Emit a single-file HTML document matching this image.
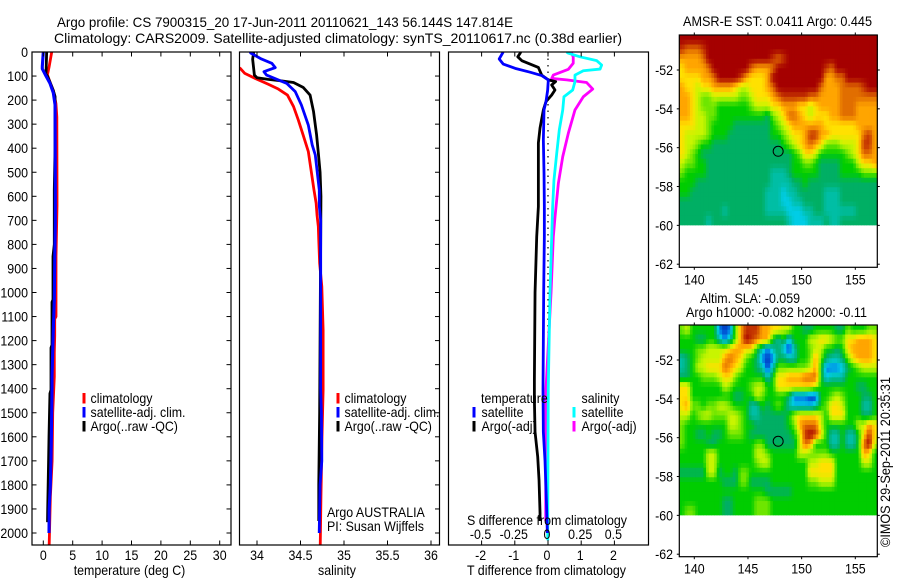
<!DOCTYPE html>
<html lang="en">
<head>
<meta charset="utf-8">
<title>Argo profile</title>
<style>
html,body{margin:0;padding:0;background:#fff;}
#chart{display:block;width:900px;height:580px;}
text{font-family:"Liberation Sans",sans-serif;font-size:14px;fill:#000;}
</style>
</head>
<body>
<svg id="chart" xmlns="http://www.w3.org/2000/svg" width="900" height="580" viewBox="0 0 900 580">
<defs>
<clipPath id="clip1"><rect x="32" y="52" width="199" height="493"/></clipPath>
<clipPath id="clip2"><rect x="239.5" y="52" width="200" height="493"/></clipPath>
<clipPath id="clip3"><rect x="448.5" y="52" width="200" height="493"/></clipPath>
</defs>
<text x="57" y="27" textLength="456">Argo profile: CS 7900315_20 17-Jun-2011 20110621_143 56.144S 147.814E</text>
<text x="54" y="43" textLength="568">Climatology: CARS2009. Satellite-adjusted climatology: synTS_20110617.nc (0.38d earlier)</text>
<g id="panels"></g>
<g id="maps"></g>
<g>
<rect x="82.5" y="393" width="3" height="10.5" fill="#f00"/>
<text x="90.5" y="403">climatology</text>
<rect x="82.5" y="407" width="3" height="10.5" fill="#00f"/>
<text x="90.5" y="417">satellite-adj. clim.</text>
<rect x="82.5" y="421" width="3" height="10.5" fill="#000"/>
<text x="90.5" y="431">Argo(..raw -QC)</text>
</g>
<g>
<rect x="336.5" y="393" width="3" height="10.5" fill="#f00"/>
<text x="344.5" y="403">climatology</text>
<rect x="336.5" y="407" width="3" height="10.5" fill="#00f"/>
<text x="344.5" y="417">satellite-adj. clim.</text>
<rect x="336.5" y="421" width="3" height="10.5" fill="#000"/>
<text x="344.5" y="431">Argo(..raw -QC)</text>
</g>
<g>
<text x="481" y="403">temperature</text>
<rect x="472.5" y="407" width="3" height="10.5" fill="#00f"/>
<text x="481.5" y="417">satellite</text>
<rect x="472.5" y="421" width="3" height="10.5" fill="#000"/>
<text x="481.5" y="431">Argo(-adj)</text>
<text x="581.5" y="403">salinity</text>
<rect x="572.5" y="407" width="3" height="10.5" fill="#0ff"/>
<text x="581.5" y="417">satellite</text>
<rect x="572.5" y="421" width="3" height="10.5" fill="#f0f"/>
<text x="581.5" y="431">Argo(-adj)</text>
</g>
<text x="327" y="517">Argo AUSTRALIA</text>
<text x="327" y="531">PI: Susan Wijffels</text>
<text x="467" y="525" textLength="160">S difference from climatology</text>
<text x="129.5" y="575" text-anchor="middle">temperature (deg C)</text>
<text x="337" y="575" text-anchor="middle">salinity</text>
<text x="467" y="575" textLength="159">T difference from climatology</text>
<text x="777.5" y="26" text-anchor="middle" textLength="189">AMSR-E SST: 0.0411  Argo: 0.445</text>
<text x="750" y="303" text-anchor="middle" textLength="100">Altim. SLA: -0.059</text>
<text x="776.5" y="317" text-anchor="middle" textLength="181">Argo h1000: -0.082 h2000: -0.11</text>
<text transform="translate(890,547) rotate(-90)" textLength="170">©IMOS 29-Sep-2011 20:35:31</text>
</svg>
<script>
// ---- axis tick data ----
var depthTicks = [0,100,200,300,400,500,600,700,800,900,1000,1100,1200,1300,1400,1500,1600,1700,1800,1900,2000];
var tempTicks = [0,5,10,15,20,25,30];
var salTicks = [34,34.5,35,35.5,36];
var tDiffTicks = [-2,-1,0,1,2];
var sDiffTicks = [-0.5,-0.25,0,0.25,0.5];
var lonTicks = [140,145,150,155];
var latTicks = [-52,-54,-56,-58,-60,-62];

// ---- temperature profiles ----
var climTempDepth = [0,60,95,125,160,215,270,574,640,850,1100,1110,1180,1250,1350,1500,1700,1850,2050];
var climTemp = [1.43,1.0,0.7,1.13,1.7,2.15,2.3,2.33,2.33,2.16,2.16,1.94,1.94,1.87,1.87,1.6,1.5,1.2,1.0];
var satTempDepth = [0,60,70,100,130,170,220,600,712,850,1031,1156,1350,1400,1500,1600,1700,1800,1900,2000];
var satTemp = [0,-0.17,-0.17,0.46,1.13,1.7,2.0,2.04,2.04,1.95,1.87,1.7,1.48,1.48,1.43,1.37,1.3,1.2,1.0,0.97];
var argoTempDepth = [0,92,100,125,160,185,400,574,800,850,1030,1040,1218,1230,1405,1420,1600,1700,1900,1955];
var argoTemp = [0.57,0.46,0.7,1.13,1.7,2.0,2.0,1.87,1.87,1.65,1.65,1.48,1.48,1.31,1.31,1.13,0.97,0.9,0.75,0.72];

// ---- salinity profiles ----
var climSalDepth = [65,89,110,134,154,179,227,283,345,414,574,629,678,726,781,878,975,1156,1405,1600,1850,2050];
var climSal = [33.8,33.86,33.98,34.13,34.245,34.35,34.42,34.475,34.53,34.59,34.655,34.68,34.69,34.705,34.71,34.72,34.745,34.76,34.76,34.747,34.735,34.727];
var satSalDepth = [0,5,29,47,65,75,82,96,116,130,165,220,304,387,428,574,640,700,1400,1500,1700,1800,2000];
var satSal = [33.92,33.93,34.05,34.17,34.21,34.13,34.08,34.11,34.245,34.34,34.44,34.51,34.59,34.635,34.67,34.716,34.716,34.732,34.732,34.74,34.745,34.725,34.715];
var argoSalDepth = [0,5,30,96,107,114,120,127,147,179,248,345,420,500,600,900,1500,1800,1950];
var argoSal = [33.96,33.96,33.95,33.97,34.0,34.13,34.28,34.42,34.53,34.61,34.65,34.685,34.705,34.725,34.735,34.73,34.72,34.71,34.71];

// ---- difference profiles ----
var satTDiffDepth = [0,29,50,68,84,98,116,158,206,241,366,503,643,768,1000,1400,1580,1700,1900,2000];
var satTDiff = [-1.35,-1.47,-1.35,-0.99,-0.54,-0.19,0.01,-0.01,-0.06,-0.12,-0.14,-0.12,-0.11,-0.11,-0.13,-0.15,-0.14,-0.09,-0.04,-0.02];
var argoTDiffDepth = [0,5,20,36,50,64,96,116,123,137,158,179,206,241,316,378,643,768,1000,1364,1447,1580,1683,1780,1917,1950];
var argoTDiff = [-0.82,-0.84,-0.91,-0.79,-0.54,-0.29,-0.19,0.01,0.23,0.11,0.21,0.11,-0.06,-0.14,-0.24,-0.29,-0.29,-0.34,-0.39,-0.41,-0.41,-0.39,-0.31,-0.27,-0.24,-0.24];
var satSDiffDepth = [0,5,20,36,54,71,78,96,123,158,186,241,324,420,532,643,768,1000,1400,2000,2030];
var satSDiff = [0.14,0.153,0.241,0.367,0.404,0.392,0.266,0.203,0.203,0.186,0.12,0.111,0.085,0.066,0.045,0.035,0.028,0.015,0.002,-0.002,-0.002];
var argoSDiffDepth = [0,5,20,47,72,96,110,116,127,154,186,241,338,435,546,685,768,1000,1400,1580,1800,1950];
var argoSDiff = [0.178,0.178,0.19,0.19,0.153,0.04,0.028,0.141,0.291,0.337,0.266,0.203,0.153,0.111,0.078,0.053,0.04,0.023,-0.015,-0.015,-0.017,-0.017];

// ---- map data: colour-level indices on a half-degree grid, north to south ----
var sstRows = [
[12,12,12,12,12,12,12,12,12,12,12,12,12,12,12,12,12,12,12,12,12,12,12,12,12,12,12,12,12,12,12,12,12,12,12,12,12],
[11,10,10,10,11,12,12,12,12,12,12,12,12,12,12,12,12,12,12,12,12,12,12,12,12,12,12,12,12,12,12,12,12,12,12,12,12],
[9,9,9,9,10,12,12,12,12,12,12,12,12,12,12,12,12,11,10,11,12,12,12,12,12,12,12,12,12,12,12,12,12,12,12,12,12],
[8,9,9,9,9,10,12,12,12,12,12,12,12,10,9,9,9,10,12,12,12,12,12,12,12,12,12,11,10,12,12,12,12,12,12,12,12],
[8,8,8,8,9,9,10,12,12,12,12,11,9,8,8,8,9,12,12,12,12,12,12,12,12,12,12,9,9,10,10,12,12,12,12,12,12],
[9,8,8,7,8,8,9,9,9,9,8,7,7,8,8,8,9,10,12,12,12,12,12,12,12,12,10,9,9,9,10,10,10,10,11,12,12],
[9,9,8,7,6,6,7,7,7,7,7,6,6,7,8,8,8,9,10,11,11,11,11,11,10,10,9,9,9,9,10,10,10,10,10,10,10],
[9,9,8,7,6,6,6,5,5,5,5,5,5,6,7,7,7,8,8,9,9,9,8,8,7,8,9,9,9,9,10,10,10,9,9,9,9],
[9,9,8,7,7,6,6,5,5,5,5,5,5,5,5,5,4,6,7,8,10,10,9,8,7,8,8,8,9,9,10,10,10,9,9,9,9],
[8,8,8,7,7,6,5,5,5,5,4,4,4,4,4,4,4,5,6,7,8,9,9,9,9,9,9,8,8,8,8,8,8,9,9,9,9],
[8,7,7,7,7,6,5,5,5,4,4,4,4,4,4,4,4,5,5,6,7,8,8,9,11,11,9,9,8,8,8,8,8,8,10,11,9],
[8,7,7,6,5,5,4,4,4,4,4,4,4,4,4,4,4,4,4,5,6,7,8,9,10,9,8,6,6,6,7,7,7,8,11,11,9],
[8,7,6,5,4,4,4,4,4,4,4,4,4,4,4,4,4,4,4,4,4,5,6,8,8,7,5,5,5,5,5,6,7,8,10,10,9],
[7,6,6,5,5,4,4,4,4,4,4,4,4,4,4,4,4,4,4,4,4,5,5,6,6,5,4,4,4,4,5,5,5,7,8,8,9],
[6,5,5,5,5,4,4,4,4,4,4,4,4,4,4,4,4,3,3,3,4,5,5,5,5,5,4,4,4,4,5,5,5,5,6,6,6],
[5,5,5,4,4,4,4,4,4,4,4,4,4,4,4,4,4,3,3,3,3,4,4,5,4,4,4,4,4,4,4,4,4,4,4,4,4],
[5,5,4,4,4,4,4,4,4,4,4,4,4,4,4,4,3,3,3,2,3,3,4,4,4,4,4,3,3,3,4,4,4,4,4,4,4],
[4,4,4,4,4,4,4,4,4,4,4,4,4,4,4,4,3,3,3,2,2,3,3,4,4,4,4,3,3,3,4,4,4,4,4,4,4],
[4,4,4,4,4,4,4,4,3,4,4,4,4,4,4,4,3,3,3,3,2,2,2,3,3,4,4,3,3,3,3,3,3,4,4,4,4],
[4,4,4,4,4,3,4,4,4,4,4,4,4,4,4,4,4,4,4,4,3,2,2,2,3,3,3,4,3,3,4,4,4,4,4,4,4]
];
var slaRows = [
[6,7,5,5,5,5,5,1,0,1,6,9,11,11,11,9,9,8,8,7,7,5,5,4,4,5,5,5,5,4,4,6,5,5,5,6,6],
[5,5,5,4,4,5,5,3,1,3,6,9,12,11,10,9,9,5,3,5,2,5,5,5,7,7,8,8,7,6,6,8,8,9,9,9,8],
[5,5,5,6,6,7,7,7,7,8,9,9,8,8,5,3,1,3,4,2,0,3,5,5,6,7,7,5,5,4,5,8,9,9,9,9,8],
[3,4,5,6,7,7,7,7,9,10,9,8,6,5,4,1,0,1,4,4,3,3,5,5,6,9,6,4,3,3,4,6,8,9,9,9,8],
[3,4,5,7,7,8,8,8,10,9,8,7,5,5,4,3,0,3,6,6,6,6,6,6,7,9,5,1,1,1,2,4,5,6,7,7,7],
[4,4,5,5,6,6,6,7,8,8,6,5,5,5,5,5,3,5,8,8,9,9,9,10,10,10,5,2,3,3,3,5,5,5,5,5,5],
[8,8,5,5,5,5,5,5,7,6,5,5,5,6,7,7,5,5,8,8,8,8,8,8,8,7,5,5,5,5,5,5,5,4,4,5,5],
[8,8,5,5,5,5,5,5,5,5,4,4,5,5,7,6,5,5,5,5,4,1,1,1,0,0,5,5,6,7,6,5,5,5,4,4,5],
[8,9,6,6,5,6,6,7,7,6,5,5,5,3,3,5,4,5,6,5,3,2,2,2,2,3,5,6,8,8,7,5,5,5,3,3,5],
[7,7,5,6,7,7,6,6,6,7,7,6,5,3,3,4,4,4,4,4,5,7,8,8,8,8,7,5,8,8,8,5,5,5,4,4,5],
[6,5,5,5,5,5,5,5,5,7,7,6,5,5,4,4,4,4,4,4,5,6,9,10,10,10,7,5,5,5,5,5,5,7,7,9,8],
[6,5,5,4,4,5,4,4,5,6,6,6,5,4,4,4,4,4,4,4,4,5,7,11,12,11,8,5,3,3,5,3,3,5,8,11,8],
[6,5,5,5,5,4,4,5,5,5,5,5,5,5,6,6,4,4,4,4,4,4,7,10,9,5,5,5,3,3,5,3,3,5,10,12,7],
[5,5,5,5,5,7,7,5,5,5,5,5,5,5,7,7,6,5,5,5,5,5,7,7,6,6,6,6,5,5,5,5,5,5,9,8,5],
[5,5,5,5,5,7,7,5,5,5,5,5,5,5,6,7,7,5,5,5,5,5,5,5,7,7,8,8,8,5,5,5,5,5,7,7,5],
[4,4,4,4,4,7,7,4,5,5,4,6,6,5,5,5,5,5,5,5,5,5,5,5,8,8,8,8,8,5,5,5,5,5,5,5,5],
[5,5,5,5,5,5,5,5,4,4,4,6,6,4,4,4,4,5,5,5,5,5,5,5,6,6,7,7,7,5,5,5,5,5,5,5,5],
[5,5,5,5,5,5,5,5,5,5,5,5,5,5,5,5,4,4,4,4,4,5,5,5,5,5,5,5,5,5,5,5,5,5,5,5,5],
[5,5,5,5,5,5,5,5,4,4,5,5,5,5,6,6,6,5,5,5,5,5,5,5,5,5,5,5,5,5,5,5,5,5,5,5,5],
[5,6,6,5,5,5,5,5,4,4,5,5,5,5,6,6,6,5,5,5,5,5,5,5,5,5,5,5,5,5,5,5,5,5,5,5,5]
];
var levelRed = [0,0,0,0,0,0,110,200,255,255,225,195,165];
var levelGreen = [50,120,205,190,175,205,230,245,225,165,110,50,0];
var levelBlue = [190,230,230,165,100,0,0,0,0,0,0,0,0];
var floatLon = 147.814;
var floatLat = -56.144;

// ---- helpers ----
var NS = "http://www.w3.org/2000/svg";
function mk(tag, attrs, parent, txt){
  var el = document.createElementNS(NS, tag);
  for (var k in attrs) el.setAttribute(k, attrs[k]);
  if (txt !== undefined) el.textContent = txt;
  parent.appendChild(el);
  return el;
}
function linear(d0, d1, r0, r1){
  return function(v){ return r0 + (v - d0) * (r1 - r0) / (d1 - d0); };
}
var depthY = linear(0, 2000, 52, 533);
var tempX = linear(0, 30, 43.3, 219.7);
var salX = linear(34, 36, 257, 431);
var tDiffX = linear(0, 2, 548, 614.4);
var sDiffX = linear(0, 0.5, 548, 614.4);

function drawBox(parent, x0, y0, x1, y1){
  var box = mk("rect", {x:x0, y:y0, width:x1-x0, height:y1-y0, fill:"none", stroke:"#000", "stroke-width":1.2}, parent);
  
  
}
function tick(parent, x1, y1, x2, y2){
  var t = mk("line", {x1:x1, y1:y1, x2:x2, y2:y2, stroke:"#000", "stroke-width":1}, parent);
  
  
}
function label(parent, x, y, anchor, str){
  var t = mk("text", {x:x, y:y, "text-anchor":anchor}, parent, str);
  
  
}
function profile(parent, clip, depths, values, xFn, color, width, name){
  var pts = [];
  for (var i = 0; i < depths.length; i++) {
    pts.push(xFn(values[i]).toFixed(2) + "," + depthY(depths[i]).toFixed(2));
  }
  var line = mk("polyline", {points:pts.join(" "), fill:"none", stroke:color, "stroke-width":width, "stroke-linejoin":"round", "clip-path":"url(#" + clip + ")"}, parent);
  
  
}

var panels = document.getElementById("panels");
var LW = 2.8;

// panel 1: temperature
var p1 = mk("g", {}, panels);


profile(p1, "clip1", climTempDepth, climTemp, tempX, "#f00", LW, "temperature-climatology-line");
profile(p1, "clip1", argoTempDepth, argoTemp, tempX, "#000", LW, "temperature-argo-line");
profile(p1, "clip1", satTempDepth, satTemp, tempX, "#00f", 3.1, "temperature-satellite-line");
drawBox(p1, 32, 52, 231, 545);
depthTicks.forEach(function(d){
  var y = depthY(d);
  tick(p1, 32, y, 36.5, y);
  tick(p1, 231, y, 226.5, y);
  label(p1, 28, y + 5, "end", String(d));
});
tempTicks.forEach(function(v){
  var x = tempX(v);
  tick(p1, x, 52, x, 56.5);
  tick(p1, x, 545, x, 540.5);
  label(p1, x, 560, "middle", String(v));
});

// panel 2: salinity
var p2 = mk("g", {}, panels);


profile(p2, "clip2", climSalDepth, climSal, salX, "#f00", LW, "salinity-climatology-line");
profile(p2, "clip2", argoSalDepth, argoSal, salX, "#000", LW, "salinity-argo-line");
profile(p2, "clip2", satSalDepth, satSal, salX, "#00f", LW, "salinity-satellite-line");
drawBox(p2, 239.5, 52, 439.5, 545);
depthTicks.forEach(function(d){
  var y = depthY(d);
  tick(p2, 439.5, y, 435, y);
});
salTicks.forEach(function(v){
  var x = salX(v);
  tick(p2, x, 52, x, 56.5);
  tick(p2, x, 545, x, 540.5);
  label(p2, x, 560, "middle", String(v));
});

// panel 3: differences
var p3 = mk("g", {}, panels);


var zeroLine = mk("line", {x1:tDiffX(0), y1:52, x2:tDiffX(0), y2:545, stroke:"#000", "stroke-width":1.2, "stroke-dasharray":"1.5 5"}, p3);


profile(p3, "clip3", argoSDiffDepth, argoSDiff, sDiffX, "#f0f", LW, "s-diff-argo-line");
profile(p3, "clip3", satSDiffDepth, satSDiff, sDiffX, "#0ff", LW, "s-diff-satellite-line");
profile(p3, "clip3", argoTDiffDepth, argoTDiff, tDiffX, "#000", LW, "t-diff-argo-line");
profile(p3, "clip3", satTDiffDepth, satTDiff, tDiffX, "#00f", LW, "t-diff-satellite-line");
drawBox(p3, 448.5, 52, 648.5, 545);
tDiffTicks.forEach(function(v){
  var x = tDiffX(v);
  tick(p3, x, 52, x, 56.5);
  tick(p3, x, 545, x, 540.5);
  label(p3, x - 1, 560, "middle", String(v));
});
sDiffTicks.forEach(function(v){
  label(p3, sDiffX(v) - 1, 539, "middle", String(v));
});

// maps
var mapsG = document.getElementById("maps");
var lonX = linear(140, 155, 694.3, 855.3);
function lerpChannel(channel, level){
  var i = Math.min(Math.floor(level), channel.length - 2);
  var f = level - i;
  return Math.round(channel[i] + (channel[i + 1] - channel[i]) * f);
}
function levelColor(level){
  return "rgb(" + lerpChannel(levelRed, level) + "," + lerpChannel(levelGreen, level) + "," + lerpChannel(levelBlue, level) + ")";
}
function sampleLevel(rows, rf, cf){
  var nr = rows.length, nc = rows[0].length;
  var r = Math.max(0, Math.min(nr - 1, rf)), c = Math.max(0, Math.min(nc - 1, cf));
  var r0 = Math.floor(r), c0 = Math.floor(c);
  var r1 = Math.min(nr - 1, r0 + 1), c1 = Math.min(nc - 1, c0 + 1);
  var fr = r - r0, fc = c - c0;
  var top = rows[r0][c0] * (1 - fc) + rows[r0][c1] * fc;
  var bot = rows[r1][c0] * (1 - fc) + rows[r1][c1] * fc;
  return top * (1 - fr) + bot * fr;
}
function drawMap(rows, top, yRef52, bottom, name){
  var g = mk("g", {}, mapsG);
  
  
  var latY = linear(-52, -62, yRef52, yRef52 + 194.2);
  var gridLon0 = 138.6, gridDLon = 0.4986;
  var gridLat0 = -52 + (yRef52 - top) / 19.42, gridDLat = (gridLat0 + 60) / rows.length;
  var sub = 2;
  var nSubR = rows.length * sub, nSubC = rows[0].length * sub;
  for (var r = 0; r < nSubR; r++) {
    for (var c = 0; c < nSubC; c++) {
      var lvl = sampleLevel(rows, (r + 0.5) / sub - 0.5, (c + 0.5) / sub - 0.5);
      var x0 = lonX(gridLon0 + c / sub * gridDLon), x1 = lonX(gridLon0 + (c + 1) / sub * gridDLon);
      var y0 = latY(gridLat0 - r / sub * gridDLat), y1 = latY(gridLat0 - (r + 1) / sub * gridDLat);
      var cell = mk("rect", {x:x0.toFixed(2), y:y0.toFixed(2), width:(x1 - x0 + 0.5).toFixed(2), height:(y1 - y0 + (r < nSubR - 1 ? 0.5 : 0)).toFixed(2), fill:levelColor(lvl)}, g);
      
      
    }
  }
  drawBox(g, 679.3, top, 877.3, bottom);
  lonTicks.forEach(function(v){
    var x = lonX(v);
    tick(g, x, top, x, top - 2.5);
    tick(g, x, bottom, x, bottom + 2.5);
    label(g, x, bottom + 17, "middle", String(v));
  });
  latTicks.forEach(function(v){
    var y = latY(v);
    tick(g, 679.3, y, 676.8, y);
    tick(g, 877.3, y, 879.8, y);
    label(g, 673, y + 5, "end", String(v));
  });
  var marker = mk("circle", {cx:lonX(floatLon), cy:latY(floatLat) + 0.8, r:5, fill:"none", stroke:"#000", "stroke-width":1}, g);
  
  
}
drawMap(sstRows, 35, 70, 267.3, "sst-map");
drawMap(slaRows, 325, 360, 556.7, "sla-map");

// the reference face is narrower than Liberation Sans at the same height
var allText = document.querySelectorAll("text");
for (var ti = 0; ti < allText.length; ti++) {
  var tEl = allText[ti];
  if (!tEl.hasAttribute("textLength")) {
    tEl.setAttribute("textLength", (tEl.getComputedTextLength() * 0.885).toFixed(1));
  }
  tEl.setAttribute("lengthAdjust", "spacingAndGlyphs");
}
</script>
</body>
</html>
